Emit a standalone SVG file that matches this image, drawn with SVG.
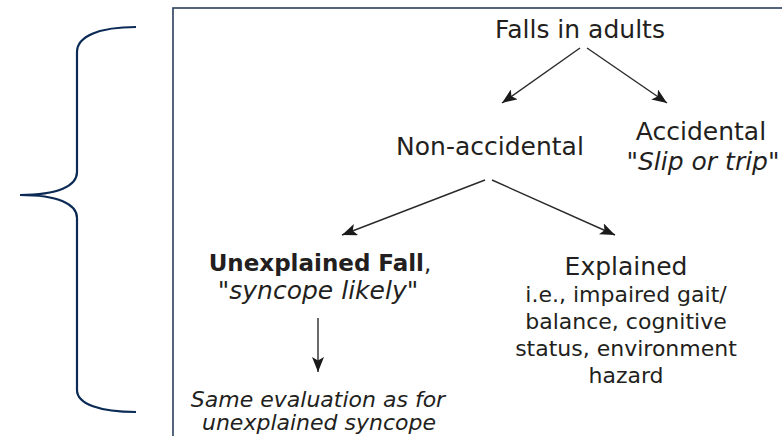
<svg xmlns="http://www.w3.org/2000/svg" width="782" height="436" viewBox="0 0 782 436">
  <style>
    .t { font-family: "DejaVu Sans", "Liberation Sans", sans-serif; fill: #231f20; text-anchor: middle; }
    .l { font-size: 25px; }
    .s { font-size: 22px; }
    .i { font-style: italic; }
    .b { font-weight: bold; }
    .c { stroke: #2a2a2a; stroke-width: 1.4; fill: none; marker-end: url(#ah); }
  </style>
  <defs>
    <marker id="ah" markerUnits="userSpaceOnUse" markerWidth="16" markerHeight="12" refX="15" refY="6" orient="auto">
      <path d="M0,0 L15,6 L0,12 L3.5,6 Z" fill="#1a1a1a"/>
    </marker>
  </defs>
  <rect width="782" height="436" fill="#ffffff"/>
  <g id="brace">
    <path d="M136,27 C100,27 77,36 77,52 L77,172 C77,186 58,195 20,195 C58,195 77,204 77,218 L77,390 C77,404 100,412 136,412" fill="none" stroke="#0b2a55" stroke-width="2.2"/>
  </g>
  <g id="frame">
    <rect x="173" y="8" width="700" height="500" fill="#ffffff" stroke="#2b3f5c" stroke-width="1.6"/>
  </g>
  <g id="connectors">
    <line class="c" x1="580" y1="48" x2="502" y2="103"/>
    <line class="c" x1="587" y1="48" x2="667" y2="103"/>
    <line class="c" x1="485" y1="180" x2="342" y2="235"/>
    <line class="c" x1="492" y1="180" x2="615" y2="235"/>
    <line class="c" x1="318" y1="318" x2="318" y2="372"/>
  </g>
  <g id="falls">
    <text class="t l" x="580" y="38">Falls in adults</text>
  </g>
  <g id="nonaccidental">
    <text class="t l" x="490" y="155">Non-accidental</text>
  </g>
  <g id="accidental">
    <text class="t l" x="701" y="140">Accidental</text>
    <text class="t l i" x="703" y="170">"Slip or trip"</text>
  </g>
  <g id="unexplained">
    <text class="t" x="320" y="271" font-size="23"><tspan class="b">Unexplained Fall</tspan>,</text>
    <text class="t l i" x="318" y="299">"syncope likely"</text>
  </g>
  <g id="explained">
    <text class="t l" x="626" y="275">Explained</text>
    <text class="t s" x="626" y="302">i.e., impaired gait/</text>
    <text class="t s" x="626" y="329">balance, cognitive</text>
    <text class="t s" x="626" y="356">status, environment</text>
    <text class="t s" x="626" y="383">hazard</text>
  </g>
  <g id="evaluation">
    <text class="t s i" x="318" y="407">Same evaluation as for</text>
    <text class="t s i" x="319" y="430">unexplained syncope</text>
  </g>
</svg>
